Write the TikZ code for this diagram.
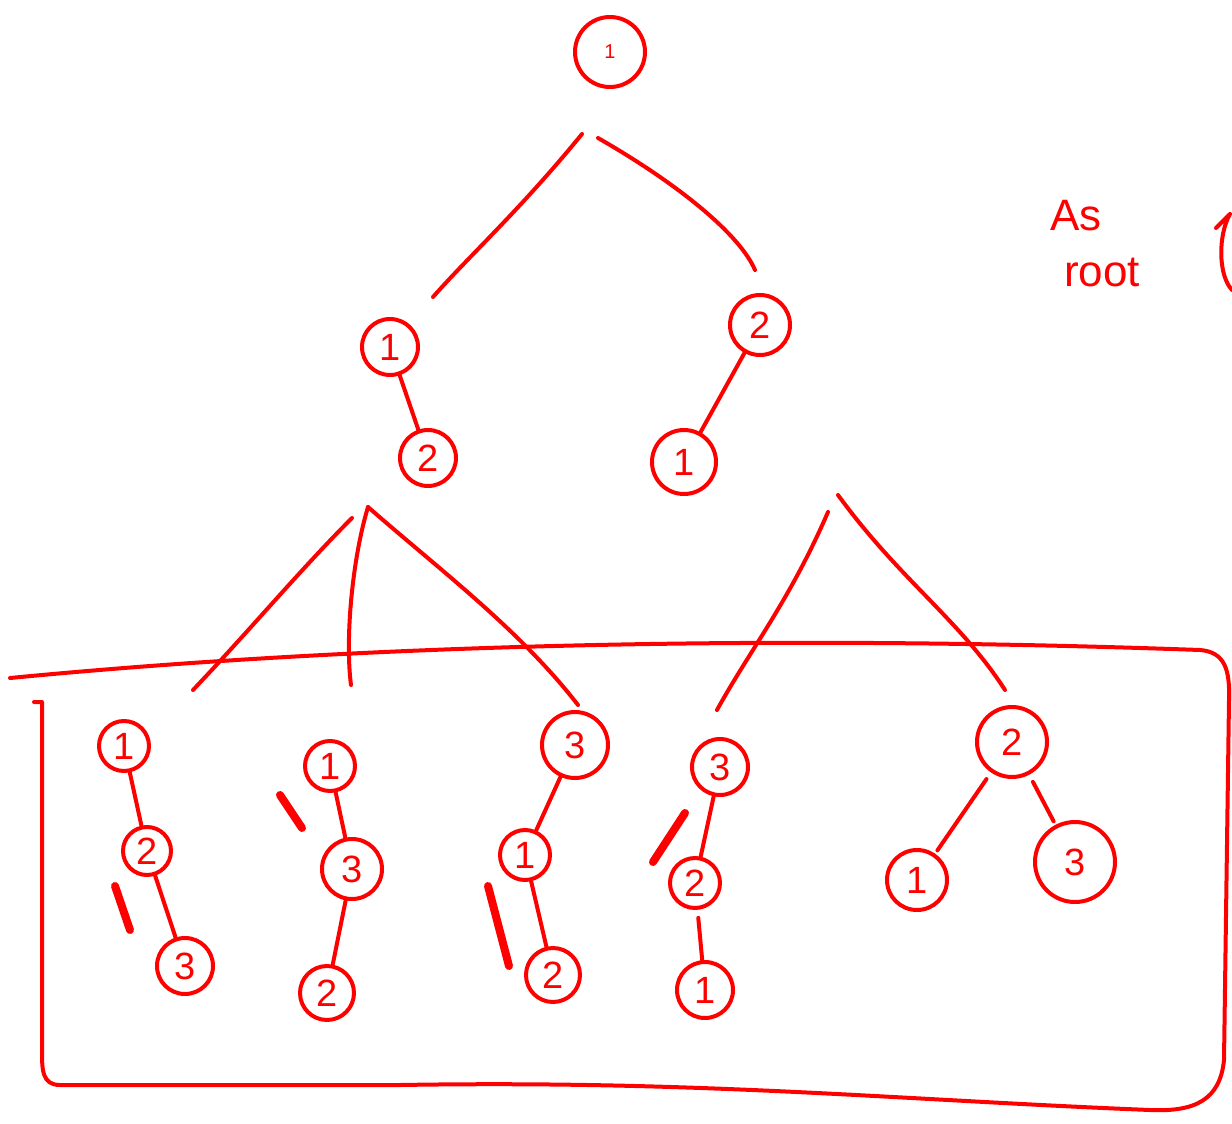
\documentclass[tikz,border=0pt]{standalone}
\usepackage{fontspec}
\setsansfont{Liberation Sans}
\tikzset{
  ink/.style={draw=red, line width=4pt, line cap=round, line join=round},
  vert/.style={ink, circle, inner sep=0pt, text=red, font=\sffamily\fontsize{38}{42}\selectfont},
  scratch/.style={red, line width=8pt, line cap=round},
}
\begin{document}
\begin{tikzpicture}[x=1pt, y=-1pt]
  \useasboundingbox (0,0) rectangle (1232,1124);
  % top of the tree
  \node[vert, minimum size=70pt, font=\sffamily\fontsize{20}{22}\selectfont] (root) at (610,52) {1};
  \node[vert, minimum size=56pt] (l1) at (390,347) {1};
  \node[vert, minimum size=60pt] (r1) at (760,325) {2};
  \node[vert, minimum size=56pt] (l2) at (428,458) {2};
  \node[vert, minimum size=64pt] (r2) at (684,462) {1};
  \coordinate (f0l) at (582,134);
  \coordinate (f0r) at (598,138);
  \coordinate (l1top) at (433,297);
  \coordinate (r1top) at (755,270);
  \draw[ink] (f0l) .. controls (520,210) and (470,255) .. (l1top);
  \draw[ink] (f0r) .. controls (680,185) and (740,235) .. (r1top);
  \draw[ink] (l1) -- (l2);
  \draw[ink] (r1) -- (r2);
  % the boxed permutations
  \node[vert, minimum size=50pt] (a1) at (124,746) {1};
  \node[vert, minimum size=48pt] (a2) at (147,851) {2};
  \node[vert, minimum size=56pt] (a3) at (185,966) {3};
  \node[vert, minimum size=50pt] (b1) at (330,766) {1};
  \node[vert, minimum size=60pt] (b2) at (352,869) {3};
  \node[vert, minimum size=54pt] (b3) at (327,993) {2};
  \node[vert, minimum size=66pt] (c1) at (575,745) {3};
  \node[vert, minimum size=50pt] (c2) at (525,855) {1};
  \node[vert, minimum size=54pt] (c3) at (553,975) {2};
  \node[vert, minimum size=56pt] (d1) at (720,767) {3};
  \node[vert, minimum size=50pt] (d2) at (695,883) {2};
  \node[vert, minimum size=56pt] (d3) at (705,990) {1};
  \node[vert, minimum size=70pt] (e1) at (1012,742) {2};
  \node[vert, minimum size=60pt] (e2) at (917,880) {1};
  \node[vert, minimum size=80pt] (e3) at (1075,862) {3};
  \coordinate (fl) at (368,507);
  \coordinate (fr1) at (828,512);
  \coordinate (fr2) at (838,495);
  \draw[ink] (352,518) .. controls (300,570) and (250,630) .. (193,690);
  \draw[ink] (fl) .. controls (352,560) and (345,640) .. (351,685);
  \draw[ink] (fl) .. controls (440,570) and (520,630) .. (578,705);
  \draw[ink] (fr1) .. controls (790,600) and (750,650) .. (717,710);
  \draw[ink] (fr2) .. controls (900,580) and (960,620) .. (1005,690);
  \draw[ink] (a1) -- (a2) (a2) -- (a3);
  \draw[ink] (b1) -- (b2) (b2) -- (b3);
  \draw[ink] (c1) -- (c2) (c2) -- (c3);
  \draw[ink, shorten <=8pt] (d1) -- (d2) (d2) -- (d3);
  \draw[ink, shorten <=8pt, shorten >=4pt] (e1) -- (e2);
  \draw[ink, shorten <=8pt, shorten >=4pt] (e1) -- (e3);
  \draw[scratch] (115,886) -- (130,930);
  \draw[scratch] (280,795) -- (302,828);
  \draw[scratch] (488,886) -- (509,966);
  \draw[scratch] (653,862) -- (685,813);
  \draw[ink] (10,678) .. controls (300,650) and (700,632) .. (1200,650)
    .. controls (1225,652) and (1230,670) .. (1229,700)
    -- (1224,1060) .. controls (1220,1100) and (1195,1112) .. (1150,1110)
    .. controls (900,1100) and (700,1080) .. (400,1085)
    -- (60,1085) .. controls (42,1085) and (42,1070) .. (42,1050)
    -- (42,702) -- (34,702);
  % note on the right
  \node[text=red, font=\sffamily\fontsize{44}{50}\selectfont] (as) at (1076,216) {As};
  \node[text=red, font=\sffamily\fontsize{44}{50}\selectfont] (rt) at (1102,272) {root};
  \draw[ink] (1216,228) -- (1230,214) (1230,214) .. controls (1218,235) and (1218,275) .. (1232,290);
\end{tikzpicture}
\end{document}
